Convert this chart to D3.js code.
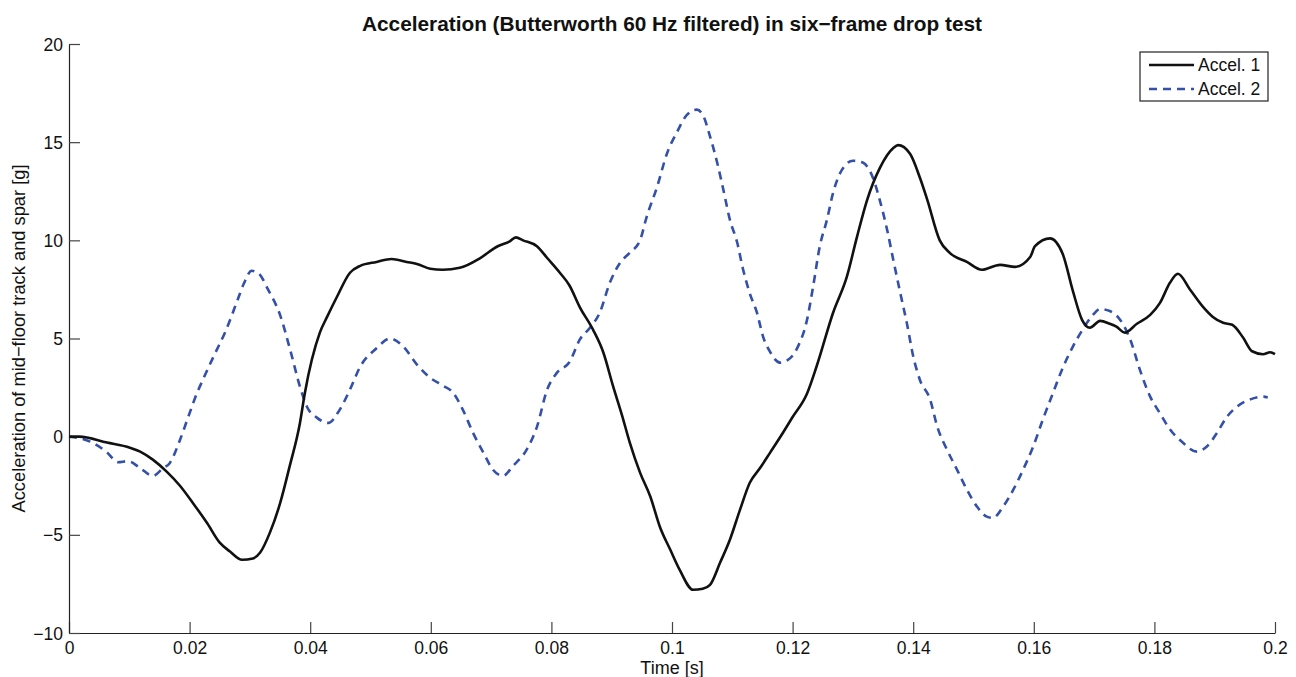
<!DOCTYPE html>
<html>
<head>
<meta charset="utf-8">
<script src="https://cdn.jsdelivr.net/npm/d3@7"></script>
<style>
  html, body { margin: 0; padding: 0; background: #fff; }
  svg { display: block; font-family: "Liberation Sans", Arial, Helvetica, sans-serif; }
</style>
</head>
<body>
<svg id="chart" width="1296" height="677"></svg>
<script>
const titleText = "Acceleration (Butterworth 60 Hz filtered) in six\u2212frame drop test";
const xLabelText = "Time [s]";
const yLabelText = "Acceleration of mid\u2212floor track and spar [g]";
const seriesNames = ["Accel. 1", "Accel. 2"];
const xTicks = [0, 0.02, 0.04, 0.06, 0.08, 0.1, 0.12, 0.14, 0.16, 0.18, 0.2];
const xTickLabels = ["0", "0.02", "0.04", "0.06", "0.08", "0.1", "0.12", "0.14", "0.16", "0.18", "0.2"];
const yTicks = [-10, -5, 0, 5, 10, 15, 20];
const yTickLabels = ["\u221210", "\u22125", "0", "5", "10", "15", "20"];

const time1 = [0,0.0017,0.0063,0.0101,0.0118,0.0139,0.0162,0.0184,0.0206,0.0229,0.025,0.0267,0.0287,0.0305,0.0317,0.0333,0.035,0.0366,0.0383,0.0391,0.0416,0.0428,0.0444,0.0466,0.0483,0.051,0.0535,0.056,0.0577,0.0599,0.062,0.0648,0.0682,0.0711,0.0731,0.0741,0.0753,0.0776,0.0793,0.0814,0.083,0.0847,0.0869,0.0886,0.0902,0.0917,0.093,0.0947,0.0964,0.098,0.0997,0.1013,0.1035,0.1051,0.1063,0.108,0.1096,0.1113,0.1129,0.1146,0.1163,0.1184,0.12,0.1224,0.124,0.1267,0.129,0.1307,0.1323,0.1345,0.1367,0.1375,0.1395,0.1411,0.1423,0.1444,0.1461,0.1489,0.1514,0.1544,0.1569,0.1594,0.1602,0.1627,0.1648,0.1665,0.168,0.1693,0.171,0.1726,0.1737,0.1751,0.1771,0.1793,0.1809,0.1826,0.1839,0.1859,0.1881,0.1897,0.1914,0.1929,0.1947,0.1962,0.198,0.1992,0.2];
const accel1 = [0,0,-0.3,-0.56,-0.76,-1.17,-1.78,-2.5,-3.4,-4.4,-5.4,-5.85,-6.27,-6.2,-5.9,-4.9,-3.4,-1.5,0.7,2.2,5.3,6.1,7.1,8.35,8.7,8.9,9.05,8.9,8.8,8.55,8.5,8.6,9.1,9.7,9.95,10.15,10.0,9.7,9.1,8.35,7.7,6.6,5.45,4.3,2.6,1.1,-0.3,-1.83,-3.05,-4.6,-5.75,-6.8,-7.8,-7.75,-7.55,-6.4,-5.25,-3.7,-2.35,-1.6,-0.8,0.2,1.0,2.2,3.6,6.3,8.15,10.2,12.0,13.7,14.7,14.85,14.4,13.2,12.1,10.0,9.35,8.9,8.5,8.75,8.65,9.15,9.7,10.1,9.3,7.4,5.95,5.55,5.9,5.75,5.6,5.3,5.75,6.2,6.8,7.85,8.3,7.5,6.6,6.1,5.8,5.7,5.05,4.35,4.2,4.3,4.2];

const time2 = [0,0.0035,0.0063,0.0081,0.0098,0.0118,0.0139,0.0156,0.0167,0.0184,0.02,0.0212,0.0222,0.024,0.026,0.028,0.029,0.0303,0.0315,0.033,0.035,0.0367,0.0383,0.0395,0.0411,0.043,0.0449,0.0466,0.0483,0.051,0.0532,0.0554,0.0577,0.0599,0.062,0.0637,0.0653,0.067,0.0687,0.0703,0.072,0.0736,0.0759,0.0776,0.0793,0.0809,0.083,0.0847,0.0864,0.088,0.0897,0.0914,0.093,0.0947,0.0958,0.0975,0.0992,0.1008,0.1025,0.1041,0.1051,0.1063,0.1075,0.1085,0.1096,0.1108,0.1118,0.1129,0.1141,0.1151,0.1163,0.1179,0.1196,0.1209,0.1224,0.1234,0.1245,0.1257,0.1267,0.1282,0.13,0.1317,0.1333,0.1345,0.1357,0.1367,0.1378,0.139,0.14,0.1411,0.1428,0.144,0.1456,0.1473,0.1489,0.1506,0.1522,0.1532,0.1549,0.1566,0.1582,0.1599,0.1615,0.1632,0.1648,0.1665,0.1682,0.1698,0.171,0.1726,0.1743,0.176,0.1776,0.1793,0.1809,0.1826,0.1847,0.187,0.1887,0.1904,0.192,0.1937,0.1959,0.198,0.1988];
const accel2 = [0,-0.25,-0.8,-1.3,-1.25,-1.6,-2.0,-1.6,-1.35,-0.17,1.2,2.2,2.9,4.1,5.4,7.0,7.8,8.45,8.3,7.5,6.2,4.4,2.55,1.5,0.97,0.7,1.38,2.4,3.57,4.5,5.0,4.6,3.67,3.0,2.6,2.24,1.38,0.2,-0.8,-1.68,-2.0,-1.5,-0.66,0.5,2.4,3.25,3.8,4.94,5.55,6.3,7.85,8.86,9.37,10.0,11.2,12.7,14.45,15.5,16.4,16.66,16.4,15.3,13.95,12.6,11.05,9.9,8.5,7.3,6.3,5.1,4.3,3.77,4.0,4.6,5.96,7.64,9.68,11.05,12.4,13.6,14.05,13.95,13.2,12.0,10.5,9.0,7.4,5.7,4.1,2.9,1.9,0.5,-0.66,-1.7,-2.7,-3.57,-4.07,-4.14,-3.57,-2.7,-1.7,-0.5,0.87,2.24,3.5,4.6,5.5,6.2,6.5,6.4,5.96,4.94,3.4,2.04,1.2,0.36,-0.3,-0.76,-0.5,0.2,1.0,1.53,1.9,2.04,2.0];

const svg = d3.select("#chart");
const margin = { left: 69, right: 21, top: 44, bottom: 44 };
const W = 1296, H = 677;
const x = d3.scaleLinear().domain([0, 0.2]).range([margin.left, W - margin.right]);
const y = d3.scaleLinear().domain([-10, 20]).range([H - margin.bottom, margin.top]);

// Axes (ticks inward, MATLAB style)
const xAxis = d3.axisBottom(x).tickValues(xTicks).tickFormat((d, i) => xTickLabels[i]).tickSizeInner(-11).tickSizeOuter(0).tickPadding(9);
const yAxis = d3.axisLeft(y).tickValues(yTicks).tickFormat((d, i) => yTickLabels[i]).tickSizeInner(-11).tickSizeOuter(0).tickPadding(6);

const gx = svg.append("g").attr("transform", `translate(0,${y(-10)})`).call(xAxis);
const gy = svg.append("g").attr("transform", `translate(${x(0)},0)`).call(yAxis);
[gx, gy].forEach(g => {
  g.select(".domain").attr("stroke", "#222").attr("stroke-width", 1.2);
  g.selectAll(".tick line").attr("stroke", "#444").attr("stroke-width", 1.2);
  g.selectAll(".tick text").attr("fill", "#111").style("font-size", "17.5px").style("font-family", "'Liberation Sans', Arial, sans-serif");
});
gy.selectAll(".tick text").attr("dy", "0.35em");

const line = d3.line().x(d => x(d[0])).y(d => y(d[1])).curve(d3.curveMonotoneX);
const d1 = time1.map((t, i) => [t, accel1[i]]);
const d2 = time2.map((t, i) => [t, accel2[i]]);

svg.append("path").datum(d2).attr("d", line).attr("fill", "none")
  .attr("stroke", "#3450a8").attr("stroke-width", 2.6).attr("stroke-dasharray", "8,6");
svg.append("path").datum(d1).attr("d", line).attr("fill", "none")
  .attr("stroke", "#111").attr("stroke-width", 2.6).attr("stroke-linejoin", "round");

// Title
svg.append("text").attr("x", (x(0) + x(0.2)) / 2).attr("y", 31).attr("text-anchor", "middle")
  .style("font-size", "20.8px").style("font-weight", "bold").attr("fill", "#111").text(titleText);

// Axis labels
svg.append("text").attr("x", (x(0) + x(0.2)) / 2).attr("y", 674).attr("text-anchor", "middle")
  .style("font-size", "18px").attr("fill", "#111").text(xLabelText);
svg.append("text").attr("transform", `translate(25,${(y(-10) + y(20)) / 2}) rotate(-90)`)
  .attr("text-anchor", "middle").style("font-size", "18.3px").attr("fill", "#111").text(yLabelText);

// Legend
const lg = svg.append("g");
lg.append("rect").attr("x", 1140).attr("y", 52).attr("width", 128).attr("height", 49)
  .attr("fill", "#fff").attr("stroke", "#222").attr("stroke-width", 1.2);
const legendRows = [
  { name: seriesNames[0], color: "#111", dash: null, yy: 65 },
  { name: seriesNames[1], color: "#3450a8", dash: "8,6", yy: 89 }
];
legendRows.forEach(r => {
  lg.append("line").attr("x1", 1149).attr("x2", 1194).attr("y1", r.yy).attr("y2", r.yy)
    .attr("stroke", r.color).attr("stroke-width", 2.6).attr("stroke-dasharray", r.dash);
  lg.append("text").attr("x", 1198).attr("y", r.yy).attr("dy", "0.35em")
    .style("font-size", "17.5px").attr("fill", "#111").text(r.name);
});
</script>
</body>
</html>
